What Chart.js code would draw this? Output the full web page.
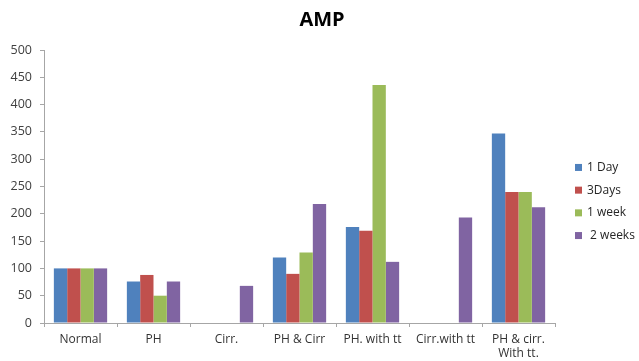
<!DOCTYPE html>
<html>
<head>
<meta charset="utf-8">
<script src="https://cdn.jsdelivr.net/npm/chart.js@4/dist/chart.umd.min.js"></script>
<style>
  html, body { margin: 0; padding: 0; background: #ffffff; }
  #wrap { width: 639px; height: 361px; position: relative; }
</style>
</head>
<body>
<div id="wrap"><canvas id="c" width="639" height="361"></canvas></div>
<script>
// Groups along the x axis
const categories = ["Normal", "PH", "Cirr.", "PH & Cirr", "PH. with tt", "Cirr.with tt", ["PH & cirr.", "With tt."]];

// AMP values per time point (null = not measured)
const oneDay    = [100, 76, null, 120, 176, null, 347];
const threeDays = [100, 88, null, 90, 169, null, 240];
const oneWeek   = [100, 50, null, 129, 436, null, 240];
const twoWeeks  = [100, 76, 68, 218, 112, 193, 212];

const seriesNames = ["1 Day", "3Days", "1 week", " 2 weeks"];
const yTicks = [0, 50, 100, 150, 200, 250, 300, 350, 400, 450, 500];

const colors = ["#4F81BD", "#C0504D", "#9BBB59", "#8064A2"];
const font = "'Open Sans', Lato, sans-serif";

const data = {
  labels: categories,
  datasets: [oneDay, threeDays, oneWeek, twoWeeks].map((vals, i) => ({
    label: seriesNames[i],
    data: vals,
    backgroundColor: colors[i],
    borderWidth: 0,
    categoryPercentage: 0.73,
    barPercentage: 1.0
  }))
};

// Vertical legend to the right of the plot, built from the chart's datasets
const sideLegend = {
  id: "sideLegend",
  afterDraw(chart) {
    const ctx = chart.ctx;
    const area = chart.chartArea;
    const x = area.right + 20;
    const step = 22.7;
    const n = chart.data.datasets.length;
    const y0 = (area.top + area.bottom) / 2 + 15 - step * (n - 1) / 2;
    ctx.save();
    ctx.font = "12px " + font;
    ctx.textBaseline = "middle";
    ctx.textAlign = "left";
    chart.data.datasets.forEach((ds, i) => {
      const y = y0 + i * step;
      ctx.fillStyle = ds.backgroundColor;
      ctx.fillRect(x, y - 3.5, 7, 7);
      ctx.fillStyle = "#262626";
      ctx.fillText(ds.label, x + 12, y);
    });
    ctx.restore();
  }
};

new Chart(document.getElementById("c"), {
  type: "bar",
  data,
  plugins: [sideLegend],
  options: {
    responsive: false,
    animation: false,
    devicePixelRatio: 1,
    layout: { padding: { left: 5, right: 0, top: 0, bottom: 0 } },
    plugins: {
      title: {
        display: true,
        text: "AMP",
        color: "#000000",
        font: { family: font, size: 20, weight: "bold" },
        padding: { top: 8, bottom: 18 }
      },
      legend: { display: false },
      tooltip: { enabled: false }
    },
    scales: {
      x: {
        grid: { display: true, drawOnChartArea: false, offset: true, tickLength: 4, color: "#A6A6A6" },
        border: { color: "#A6A6A6" },
        ticks: { color: "#333333", font: { family: font, size: 12, lineHeight: 1.15 }, padding: 6, maxRotation: 0, autoSkip: false },
        afterFit: (s) => { s.height = 38; }
      },
      y: {
        min: 0,
        max: 500,
        afterBuildTicks: (s) => { s.ticks = yTicks.map(v => ({ value: v })); },
        grid: { display: true, drawOnChartArea: false, tickLength: 4, color: "#A6A6A6" },
        border: { color: "#A6A6A6" },
        ticks: { color: "#404040", font: { family: font, size: 12.5 }, padding: 8 },
        afterFit: (s) => { s.width = 39; }
      },
      // empty right-hand strip that holds the legend
      legendSpace: {
        type: "linear",
        position: "right",
        display: true,
        grid: { display: false },
        border: { display: false },
        ticks: { display: false },
        afterFit: (s) => { s.width = 84; }
      }
    }
  }
});
</script>
</body>
</html>
